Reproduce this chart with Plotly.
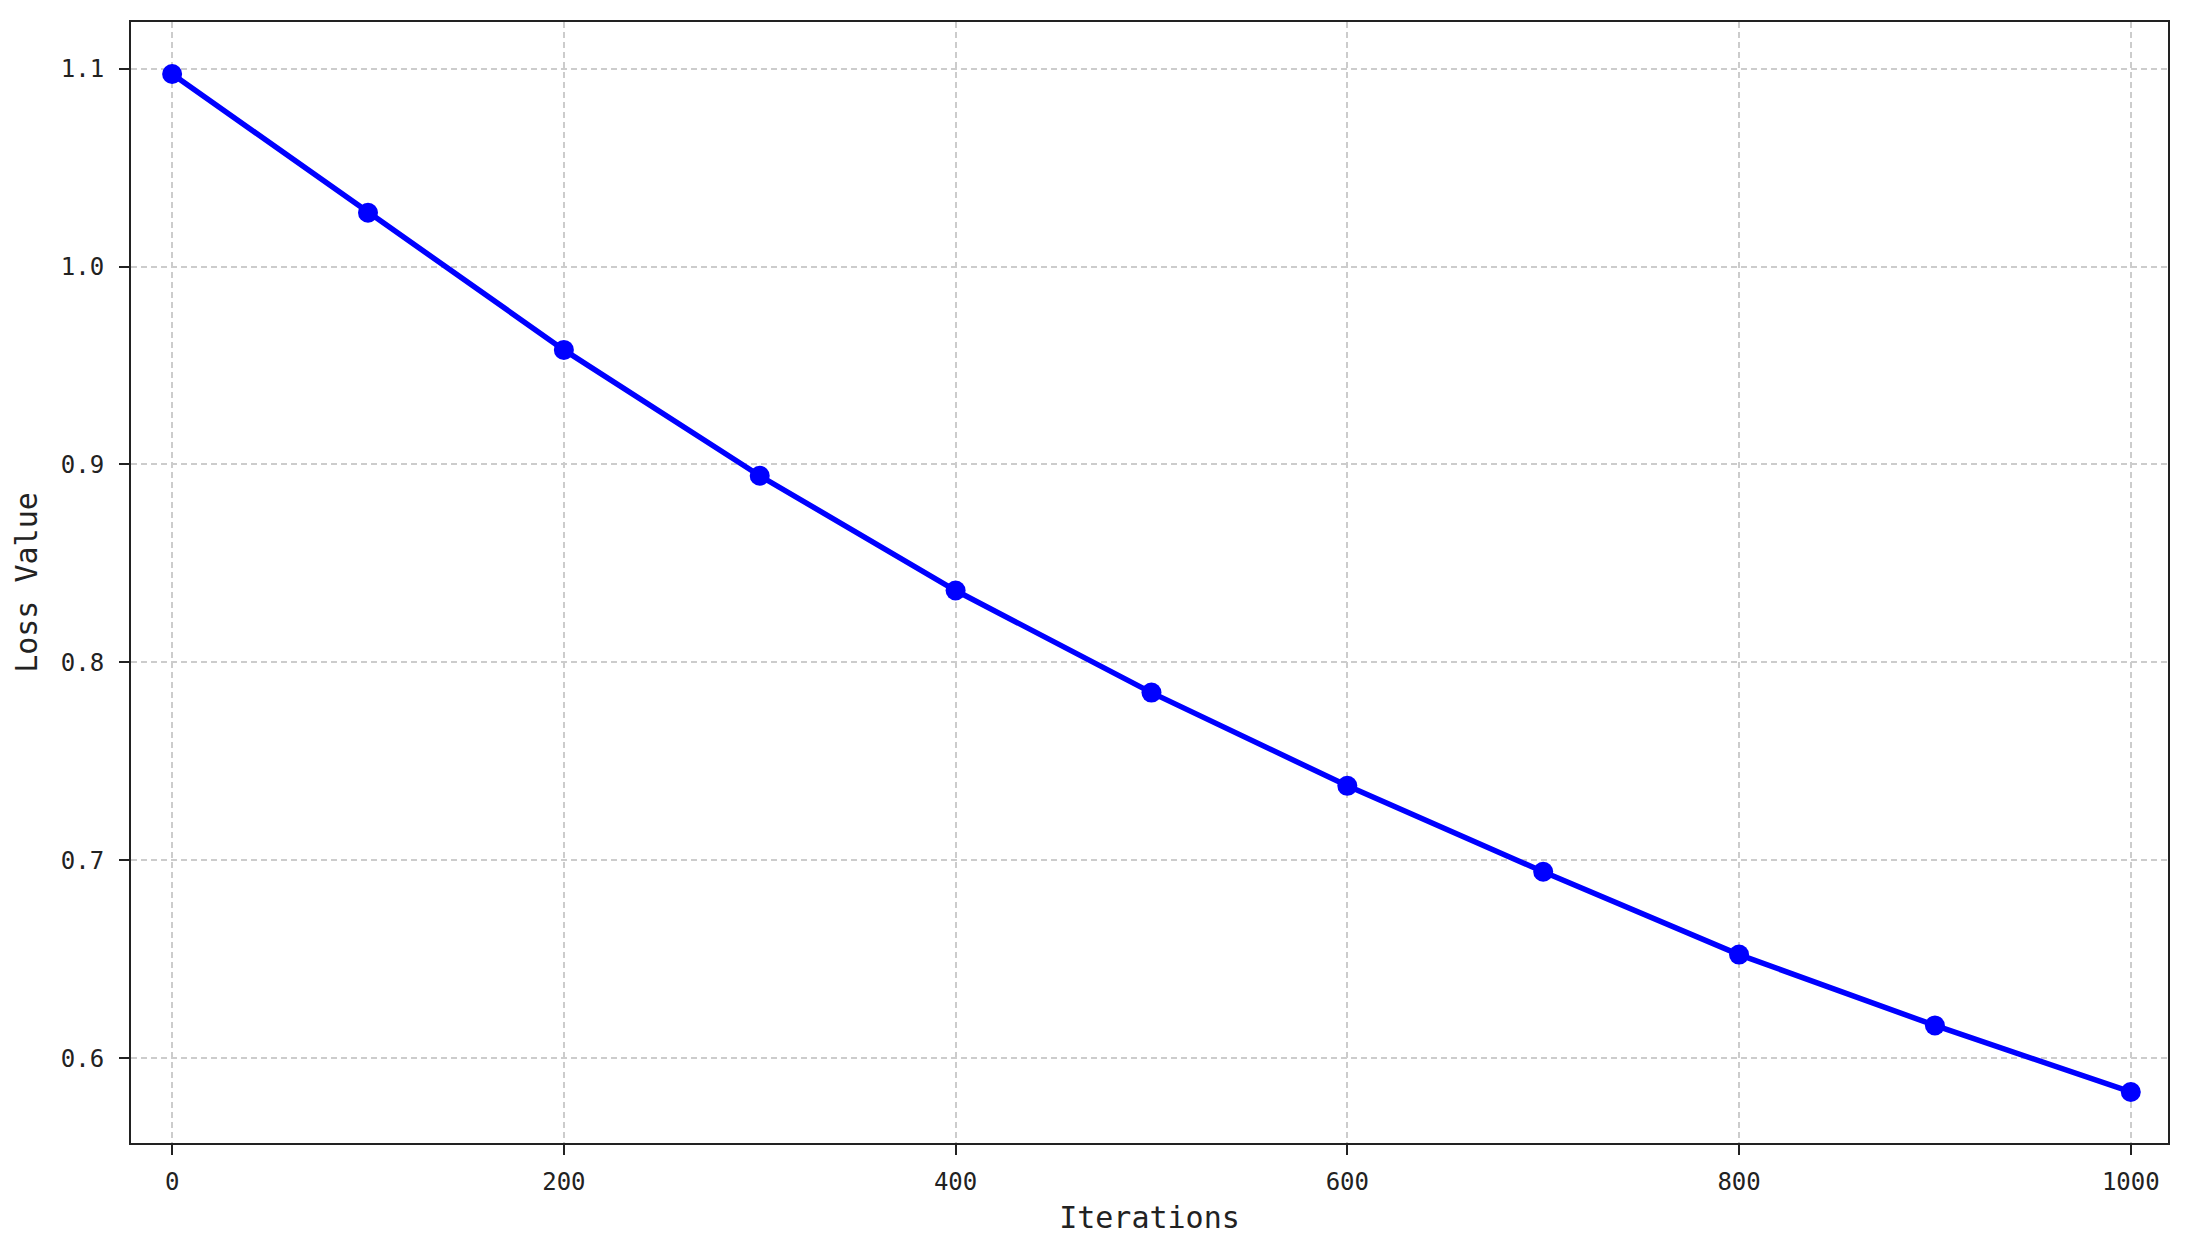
import plotly.graph_objects as go

iterations = [0, 100, 200, 300, 400, 500, 600, 700, 800, 900, 1000]
loss_values = [1.0973, 1.0272, 0.9579, 0.8943, 0.8363, 0.7847, 0.7376, 0.6942, 0.6523, 0.6165, 0.5829]

x_ticks = [0, 200, 400, 600, 800, 1000]
y_ticks = [0.6, 0.7, 0.8, 0.9, 1.0, 1.1]

fig = go.Figure()
fig.add_trace(go.Scatter(
    x=iterations,
    y=loss_values,
    mode='lines+markers',
    line=dict(width=5.5, color="#0000ff"),
    marker=dict(size=20, color="#0000ff"),
    showlegend=False
))

# page body has an 8px margin, so the figure is a bit smaller than the window
fig.update_layout(
    width=2179, height=1248,
    margin=dict(l=123, r=19, t=12, b=113),
    paper_bgcolor="white",
    plot_bgcolor="white",
    font=dict(family="DejaVu Sans Mono", size=24, color="#222222")
)
fig.update_xaxes(
    range=[-21, 1019],
    tickvals=x_ticks,
    ticks="outside", ticklen=10, tickwidth=2, tickcolor="#222222",
    ticklabelstandoff=6,
    showline=True, linewidth=2, linecolor="#222222", mirror=True,
    showgrid=True, gridcolor="#cccccc", gridwidth=1.5, griddash="6px,4px",
    zeroline=False,
    title=dict(text="Iterations", font=dict(size=30, color="#222222"), standoff=12)
)
fig.update_yaxes(
    range=[0.5571, 1.1236],
    tickvals=y_ticks,
    tickformat=".1f",
    ticks="outside", ticklen=10, tickwidth=2, tickcolor="#222222",
    ticklabelstandoff=10,
    showline=True, linewidth=2, linecolor="#222222", mirror=True,
    showgrid=True, gridcolor="#cccccc", gridwidth=1.5, griddash="6px,4px",
    zeroline=False,
    title=dict(text="Loss Value", font=dict(size=30, color="#222222"), standoff=14)
)

fig.write_html("out.html")
